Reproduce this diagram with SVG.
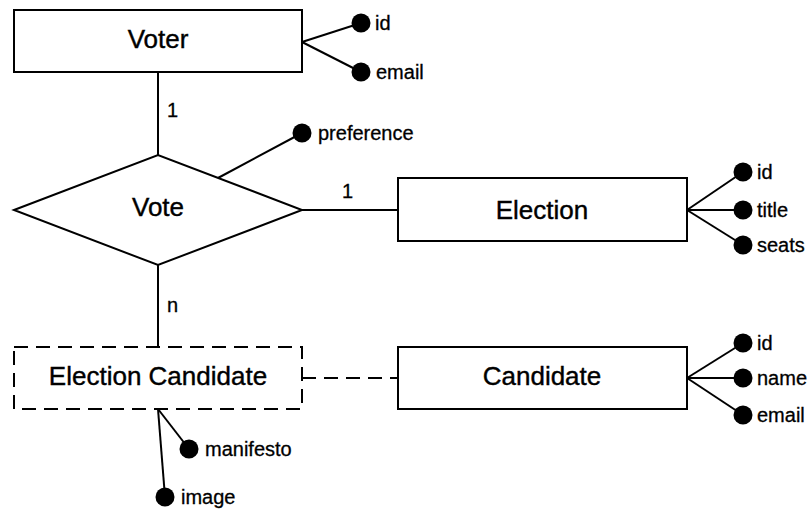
<svg xmlns="http://www.w3.org/2000/svg" width="810" height="511" viewBox="0 0 810 511">
<style>
.box{fill:#fff;stroke:#000;stroke-width:2}
.dash{stroke-dasharray:14 8}
.ln{stroke:#000;stroke-width:2;fill:none}
.dot{fill:#000}
.t{font-family:"Liberation Sans",Arial,sans-serif;font-size:26px;fill:#000;stroke:#000;stroke-width:0.4;text-anchor:middle}
.a{font-family:"Liberation Sans",Arial,sans-serif;font-size:20px;fill:#000;stroke:#000;stroke-width:0.3}
</style>
<rect width="810" height="511" fill="#fff"/>
<g id="connectors">
<line class="ln" x1="158" y1="72" x2="158" y2="155"/>
<line class="ln" x1="158" y1="265" x2="158" y2="347"/>
<line class="ln" x1="302" y1="210" x2="398" y2="210"/>
<line class="ln dash" x1="302" y1="378" x2="398" y2="378"/>
<text class="a" x="167" y="117">1</text>
<text class="a" x="342" y="198">1</text>
<text class="a" x="167" y="312">n</text>
</g>
<g id="voter">
<line class="ln" x1="302" y1="42" x2="361" y2="23"/>
<line class="ln" x1="302" y1="42" x2="361" y2="72"/>
<rect class="box" x="14" y="10" width="288" height="62"/>
<text class="t" x="158" y="48">Voter</text>
<circle class="dot" cx="361" cy="23" r="9.5"/>
<circle class="dot" cx="361" cy="72" r="9.5"/>
<text class="a" x="375" y="30">id</text>
<text class="a" x="376" y="79">email</text>
</g>
<g id="vote">
<line class="ln" x1="218" y1="178" x2="302" y2="133"/>
<polygon class="box" points="14,210 158,155 302,210 158,265"/>
<text class="t" x="158" y="216">Vote</text>
<circle class="dot" cx="302" cy="133" r="9.5"/>
<text class="a" x="318" y="140">preference</text>
</g>
<g id="election">
<line class="ln" x1="687" y1="210" x2="743" y2="172"/>
<line class="ln" x1="687" y1="210" x2="743" y2="210"/>
<line class="ln" x1="687" y1="210" x2="743" y2="245"/>
<rect class="box" x="398" y="178" width="289" height="63"/>
<text class="t" x="542" y="219">Election</text>
<circle class="dot" cx="743" cy="172" r="9.5"/>
<circle class="dot" cx="743" cy="210" r="9.5"/>
<circle class="dot" cx="743" cy="245" r="9.5"/>
<text class="a" x="757" y="179">id</text>
<text class="a" x="757" y="217">title</text>
<text class="a" x="757" y="252">seats</text>
</g>
<g id="election-candidate">
<line class="ln" x1="158" y1="409" x2="189" y2="449"/>
<line class="ln" x1="158" y1="409" x2="165" y2="497"/>
<rect class="box dash" x="14" y="347" width="288" height="62"/>
<text class="t" x="158" y="385">Election Candidate</text>
<circle class="dot" cx="189" cy="449" r="9.5"/>
<circle class="dot" cx="165" cy="497" r="9.5"/>
<text class="a" x="205" y="456">manifesto</text>
<text class="a" x="181" y="504">image</text>
</g>
<g id="candidate">
<line class="ln" x1="687" y1="378" x2="743" y2="343"/>
<line class="ln" x1="687" y1="378" x2="743" y2="378"/>
<line class="ln" x1="687" y1="378" x2="743" y2="415"/>
<rect class="box" x="398" y="347" width="289" height="62"/>
<text class="t" x="542" y="385">Candidate</text>
<circle class="dot" cx="743" cy="343" r="9.5"/>
<circle class="dot" cx="743" cy="378" r="9.5"/>
<circle class="dot" cx="743" cy="415" r="9.5"/>
<text class="a" x="757" y="350">id</text>
<text class="a" x="757" y="385">name</text>
<text class="a" x="757" y="422">email</text>
</g>
</svg>
